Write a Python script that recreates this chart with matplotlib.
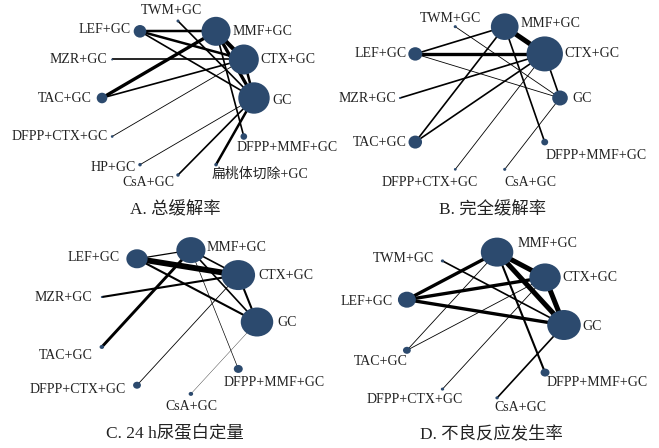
import numpy as np
import matplotlib
matplotlib.use("Agg")
import matplotlib.pyplot as plt
from matplotlib.patches import Ellipse

plt.rcParams['font.family'] = ['Liberation Serif', 'Noto Sans CJK SC']

# ---------------- data ----------------
# Nodes are listed counter-clockwise starting from GC (3 o'clock position).
a_nodes = ["GC", "CTX+GC", "MMF+GC", "TWM+GC", "LEF+GC", "MZR+GC", "TAC+GC",
           "DFPP+CTX+GC", "HP+GC", "CsA+GC", "扁桃体切除+GC", "DFPP+MMF+GC"]
a_sizes = [986, 900, 841, 9, 159, 4, 112, 7, 12, 12, 12, 44]
a_edges = [("MMF+GC", "CTX+GC", 5), ("MMF+GC", "GC", 4), ("CTX+GC", "GC", 3),
           ("LEF+GC", "MMF+GC", 3), ("LEF+GC", "CTX+GC", 3), ("LEF+GC", "GC", 2),
           ("MZR+GC", "CTX+GC", 2), ("TAC+GC", "MMF+GC", 4), ("TAC+GC", "CTX+GC", 2),
           ("TWM+GC", "GC", 2), ("DFPP+CTX+GC", "CTX+GC", 1), ("HP+GC", "GC", 1),
           ("CsA+GC", "GC", 2), ("扁桃体切除+GC", "GC", 3), ("DFPP+MMF+GC", "MMF+GC", 2)]

b_nodes = ["GC", "CTX+GC", "MMF+GC", "TWM+GC", "LEF+GC", "MZR+GC", "TAC+GC",
           "DFPP+CTX+GC", "CsA+GC", "DFPP+MMF+GC"]
b_sizes = [225, 1225, 708, 9, 180, 4, 169, 7, 9, 44]
b_edges = [("MMF+GC", "CTX+GC", 6), ("CTX+GC", "GC", 2), ("LEF+GC", "MMF+GC", 2),
           ("LEF+GC", "CTX+GC", 4), ("LEF+GC", "GC", 1), ("MZR+GC", "CTX+GC", 2),
           ("TAC+GC", "MMF+GC", 2), ("TAC+GC", "CTX+GC", 2), ("TWM+GC", "GC", 1),
           ("DFPP+CTX+GC", "CTX+GC", 1), ("CsA+GC", "GC", 1), ("DFPP+MMF+GC", "MMF+GC", 2)]

c_nodes = ["GC", "CTX+GC", "MMF+GC", "LEF+GC", "MZR+GC", "TAC+GC",
           "DFPP+CTX+GC", "CsA+GC", "DFPP+MMF+GC"]
c_sizes = [841, 900, 676, 361, 3, 16, 49, 16, 64]
c_edges = [("LEF+GC", "CTX+GC", 7), ("LEF+GC", "MMF+GC", 1.5), ("LEF+GC", "GC", 2.5),
           ("MZR+GC", "CTX+GC", 2.5), ("TAC+GC", "MMF+GC", 3.5), ("MMF+GC", "CTX+GC", 2),
           ("MMF+GC", "GC", 2), ("CTX+GC", "GC", 2.5), ("DFPP+MMF+GC", "MMF+GC", 0.8),
           ("DFPP+CTX+GC", "CTX+GC", 1), ("CsA+GC", "GC", 0.4)]

d_nodes = ["GC", "CTX+GC", "MMF+GC", "TWM+GC", "LEF+GC", "TAC+GC",
           "DFPP+CTX+GC", "CsA+GC", "DFPP+MMF+GC"]
d_sizes = [900, 784, 841, 9, 256, 49, 9, 9, 64]
d_edges = [("MMF+GC", "CTX+GC", 6), ("MMF+GC", "GC", 6), ("CTX+GC", "GC", 6),
           ("LEF+GC", "MMF+GC", 4), ("LEF+GC", "CTX+GC", 4), ("LEF+GC", "GC", 4),
           ("TWM+GC", "GC", 2), ("TAC+GC", "MMF+GC", 1), ("TAC+GC", "CTX+GC", 1),
           ("DFPP+CTX+GC", "CTX+GC", 1), ("DFPP+MMF+GC", "MMF+GC", 2.5), ("CsA+GC", "GC", 2)]

titles = ["A. 总缓解率", "B. 完全缓解率", "C. 24 h尿蛋白定量", "D. 不良反应发生率"]

# ---------------- layout ----------------
NODE_COLOR = "#2c4a6e"
W, H = 659, 448

# circle centre, x/y radius, node stretch, title anchor (pixels)
panel_layout = [
    dict(c=(178, 98), rx=76, ry=77, stretch=1.00, title=(175, 210)),
    dict(c=(480, 98), rx=80, ry=75, stretch=1.04, title=(493, 210)),
    dict(c=(177, 322), rx=80, ry=73, stretch=1.12, title=(175, 434)),
    dict(c=(483, 325), rx=81, ry=74, stretch=1.12, title=(491, 434)),
]

# label offsets from node centre: (dx, dy, horizontal alignment)
label_offsets = [
    {"GC": (18, 2, "left"), "CTX+GC": (17, 0, "left"), "MMF+GC": (17, 0, "left"),
     "TWM+GC": (-7, -11, "center"), "LEF+GC": (-9, -2, "right"), "MZR+GC": (-5, 0, "right"),
     "TAC+GC": (-10, 0, "right"), "DFPP+CTX+GC": (-4, 0, "right"), "HP+GC": (-4, 3, "right"),
     "CsA+GC": (-4, 8, "right"), "扁桃体切除+GC": (-4, 10, "left"),
     "DFPP+MMF+GC": (-7, 11, "left")},
    {"GC": (12, 1, "left"), "CTX+GC": (20, 0, "left"), "MMF+GC": (16, -3, "left"),
     "TWM+GC": (-5, -8, "center"), "LEF+GC": (-9, 0, "right"), "MZR+GC": (-4, 0, "right"),
     "TAC+GC": (-9, 0, "right"), "DFPP+CTX+GC": (-26, 13, "center"),
     "CsA+GC": (0, 13, "left"), "DFPP+MMF+GC": (1, 13, "left")},
    {"GC": (20, 1, "left"), "CTX+GC": (20, 0, "left"), "MMF+GC": (16, -3, "left"),
     "LEF+GC": (-17, -1, "right"), "MZR+GC": (-10, 0, "right"), "TAC+GC": (-9, 9, "right"),
     "DFPP+CTX+GC": (-11, 4, "right"), "CsA+GC": (0, 13, "center"),
     "DFPP+MMF+GC": (-15, 14, "left")},
    {"GC": (18, 1, "left"), "CTX+GC": (17, 0, "left"), "MMF+GC": (20, -9, "left"),
     "TWM+GC": (-8, -2, "right"), "LEF+GC": (-14, 2, "right"), "TAC+GC": (1, 11, "right"),
     "DFPP+CTX+GC": (-28, 10, "center"), "CsA+GC": (-3, 10, "left"),
     "DFPP+MMF+GC": (1, 10, "left")},
]

panels = [(a_nodes, a_sizes, a_edges), (b_nodes, b_sizes, b_edges),
          (c_nodes, c_sizes, c_edges), (d_nodes, d_sizes, d_edges)]

fig = plt.figure(figsize=(W / 100, H / 100), dpi=100)
ax = fig.add_axes([0, 0, 1, 1])
ax.set_xlim(0, W)
ax.set_ylim(H, 0)
ax.axis("off")

for (nodes, sizes, edges), lay, offs, title in zip(panels, panel_layout, label_offsets, titles):
    n = len(nodes)
    ang = np.deg2rad(np.arange(n) * 360.0 / n)
    cx, cy = lay["c"]
    pos = {name: (cx + lay["rx"] * np.cos(a), cy - lay["ry"] * np.sin(a))
           for name, a in zip(nodes, ang)}
    radius = {name: 0.5 * np.sqrt(s) for name, s in zip(nodes, sizes)}

    # edges: width proportional to the number of direct comparisons
    for u, v, w in edges:
        (x0, y0), (x1, y1) = pos[u], pos[v]
        ax.plot([x0, x1], [y0, y1], color="black", lw=0.6 * w,
                solid_capstyle="butt", zorder=1)

    # nodes: area proportional to sample size
    for name in nodes:
        r = max(radius[name], 0.9)
        x, y = pos[name]
        ax.add_patch(Ellipse((x, y), 2 * r * lay["stretch"], 2 * r,
                             facecolor=NODE_COLOR, edgecolor="none", zorder=2))
        dx, dy, ha = offs[name]
        ax.text(x + dx, y + dy, name, ha=ha, va="center", fontsize=10,
                color="#222222", zorder=3)

    tx, ty = lay["title"]
    ax.text(tx, ty, title, ha="center", va="center", fontsize=12.5, color="#222222")

fig.savefig("out.png", dpi=100)
